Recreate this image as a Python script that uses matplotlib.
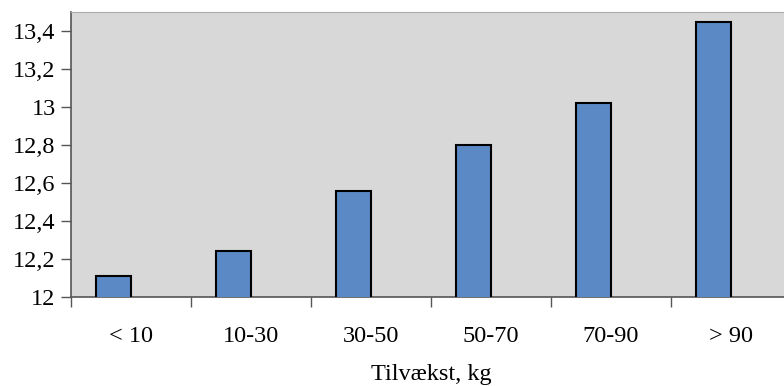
import matplotlib
matplotlib.use('Agg')
import matplotlib.pyplot as plt
import numpy as np

# ── Data ──────────────────────────────────────────────────────────────────────
categories = ['< 10', '10-30', '30-50', '50-70', '70-90', '> 90']
values     = [12.11, 12.24, 12.56, 12.80, 13.02, 13.45]
y_ticks    = [12.0, 12.2, 12.4, 12.6, 12.8, 13.0, 13.2, 13.4]
y_labels   = ['12', '12,2', '12,4', '12,6', '12,8', '13', '13,2', '13,4']

BAR_COLOR  = '#5B89C6'
PLOT_BG    = '#D8D8D8'
AXIS_COLOR = '#555555'

plt.rcParams['font.family'] = ['Liberation Serif', 'DejaVu Serif']

fig = plt.figure(figsize=(7.84, 3.86), dpi=100)
ax = fig.add_axes([71 / 784, 1 - 297 / 386, 720 / 784, 285 / 386])
ax.set_facecolor(PLOT_BG)

x = np.arange(len(categories))
w = 0.29
ax.bar(x - w / 2, values, width=w, bottom=0, color=BAR_COLOR,
       edgecolor='black', linewidth=1.5, zorder=3)

ax.set_xlim(-0.5, len(categories) - 0.5)
ax.set_ylim(12.0, 13.5)

ax.set_yticks(y_ticks)
ax.set_yticklabels(y_labels, fontsize=17.5)
ax.set_xticks(x)
ax.set_xticklabels(categories, fontsize=17.5)
ax.set_xticks(np.arange(len(categories) + 1) - 0.5, minor=True)
ax.tick_params(axis='x', which='major', length=0, pad=21)
ax.tick_params(axis='x', which='minor', length=7, direction='out',
               color=AXIS_COLOR, width=1)
ax.tick_params(axis='y', length=7, direction='out', color=AXIS_COLOR,
               width=1, pad=4)

ax.set_xlabel('Tilvækst, kg', fontsize=17.5, labelpad=12)

for side in ['left', 'bottom']:
    ax.spines[side].set_color(AXIS_COLOR)
    ax.spines[side].set_linewidth(1.2)
ax.spines['top'].set_color('#AAAAAA')
ax.spines['right'].set_visible(False)

fig.savefig('out.png', dpi=100)
